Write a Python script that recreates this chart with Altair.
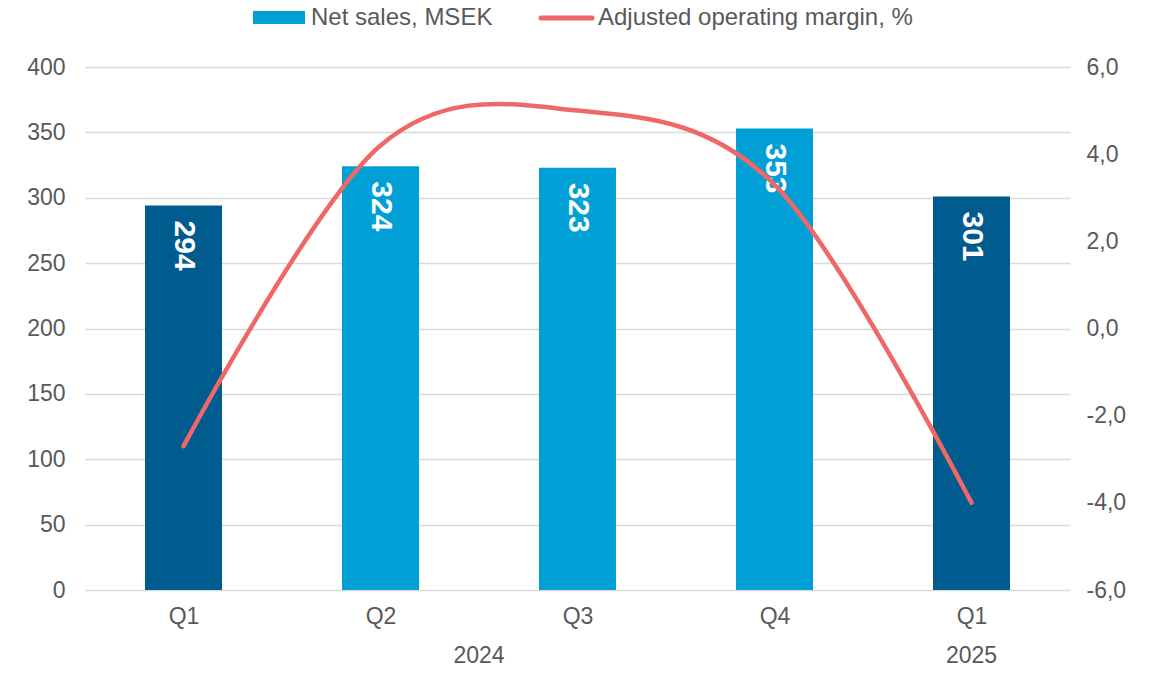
import altair as alt
import pandas as pd

# ---- data ----
quarters = ["Q1", "Q2", "Q3", "Q4", "Q1"]
years = ["2024", "2024", "2024", "2024", "2025"]
net_sales = [294, 324, 323, 353, 301]
adj_margin = [-2.7, 4.2, 5.0, 3.3, -4.0]
series_names = ["Net sales, MSEK", "Adjusted operating margin, %"]
left_ticks = [0, 50, 100, 150, 200, 250, 300, 350, 400]
right_ticks = [-6, -4, -2, 0, 2, 4, 6]

df = pd.DataFrame({
    "idx": list(range(len(quarters))),
    "quarter": quarters,
    "year": years,
    "sales": net_sales,
    "margin": adj_margin,
})

DARK = "#005B8F"
LIGHT = "#00A0D7"
RED = "#EF6767"
GRID = "#D9D9D9"
TXT = "#595959"
FONT = "Liberation Sans"
W, H = 985, 523

q_expr = "[" + ",".join(f"'{q}'" for q in quarters) + "][datum.value]"
x_scale = alt.Scale(domain=[-0.5, len(quarters) - 0.5], nice=False, zero=False, padding=0)
x_axis = alt.Axis(values=list(range(len(quarters))), labelExpr=q_expr, title=None,
                  ticks=False, domain=False, grid=False, labelFontSize=23,
                  labelColor=TXT, labelFont=FONT, labelPadding=15)

y_scale = alt.Scale(domain=[0, 400], nice=False)
y_axis = alt.Axis(values=left_ticks, title=None, ticks=False, domain=False,
                  grid=True, gridColor=GRID, gridWidth=1.5, labelFontSize=23,
                  labelColor=TXT, labelFont=FONT, labelPadding=20, orient="left")

base = alt.Chart(df)

bars = base.mark_bar(size=77).encode(
    x=alt.X("idx:Q", scale=x_scale, axis=x_axis),
    y=alt.Y("sales:Q", scale=y_scale, axis=y_axis),
    color=alt.condition("datum.quarter == 'Q1'", alt.value(DARK), alt.value(LIGHT)),
)

labels = base.mark_text(angle=90, align="left", baseline="middle", dx=15,
                        fontSize=30, fontWeight="bold", color="white", font=FONT).encode(
    x=alt.X("idx:Q", scale=x_scale, axis=x_axis),
    y=alt.Y("sales:Q", scale=y_scale, axis=y_axis),
    text="sales:Q",
)

year_text = base.transform_aggregate(
    pos="mean(idx)", groupby=["year"]
).mark_text(fontSize=23, color=TXT, font=FONT, baseline="alphabetic").encode(
    x=alt.X("pos:Q", scale=x_scale, axis=x_axis),
    y=alt.value(H + 73),
    text="year:N",
)

right_expr = "(datum.value < 0 ? '-' : '') + replace(format(abs(datum.value), '.1f'), '.', ',')"
line = base.mark_line(interpolate="cardinal", tension=0, strokeWidth=4.5,
                      strokeCap="round", color=RED).encode(
    x=alt.X("idx:Q", scale=x_scale, axis=x_axis),
    y=alt.Y("margin:Q", scale=alt.Scale(domain=[-6, 6], nice=False),
            axis=alt.Axis(orient="right", values=right_ticks, labelExpr=right_expr, title=None,
                          ticks=False, domain=False, grid=False, labelFontSize=23,
                          labelColor=TXT, labelFont=FONT, labelPadding=16)),
)

one = alt.Chart(pd.DataFrame({"a": [0]}))
leg_rect = one.mark_rect(color=LIGHT).encode(
    x=alt.value(168), x2=alt.value(220), y=alt.value(-56), y2=alt.value(-43))
leg_t1 = one.mark_text(align="left", baseline="middle", fontSize=24, color=TXT, font=FONT).encode(
    x=alt.value(226), y=alt.value(-49), text=alt.value(series_names[0]))
leg_rule = one.mark_rule(color=RED, strokeWidth=5, strokeCap="round").encode(
    x=alt.value(456), x2=alt.value(507), y=alt.value(-49))
leg_t2 = one.mark_text(align="left", baseline="middle", fontSize=24, color=TXT, font=FONT).encode(
    x=alt.value(513), y=alt.value(-49), text=alt.value(series_names[1]))

chart = alt.layer(
    alt.layer(bars, labels, year_text),
    line,
    leg_rect, leg_t1, leg_rule, leg_t2,
).resolve_scale(y="independent").properties(
    width=W, height=H,
    padding={"left": 77, "top": 59, "right": 82, "bottom": 75},
    autosize=alt.AutoSizeParams(type="none"),
).configure(font=FONT).configure_view(strokeOpacity=0)

chart.save("out.html", embed_options={"renderer": "svg", "actions": False})
